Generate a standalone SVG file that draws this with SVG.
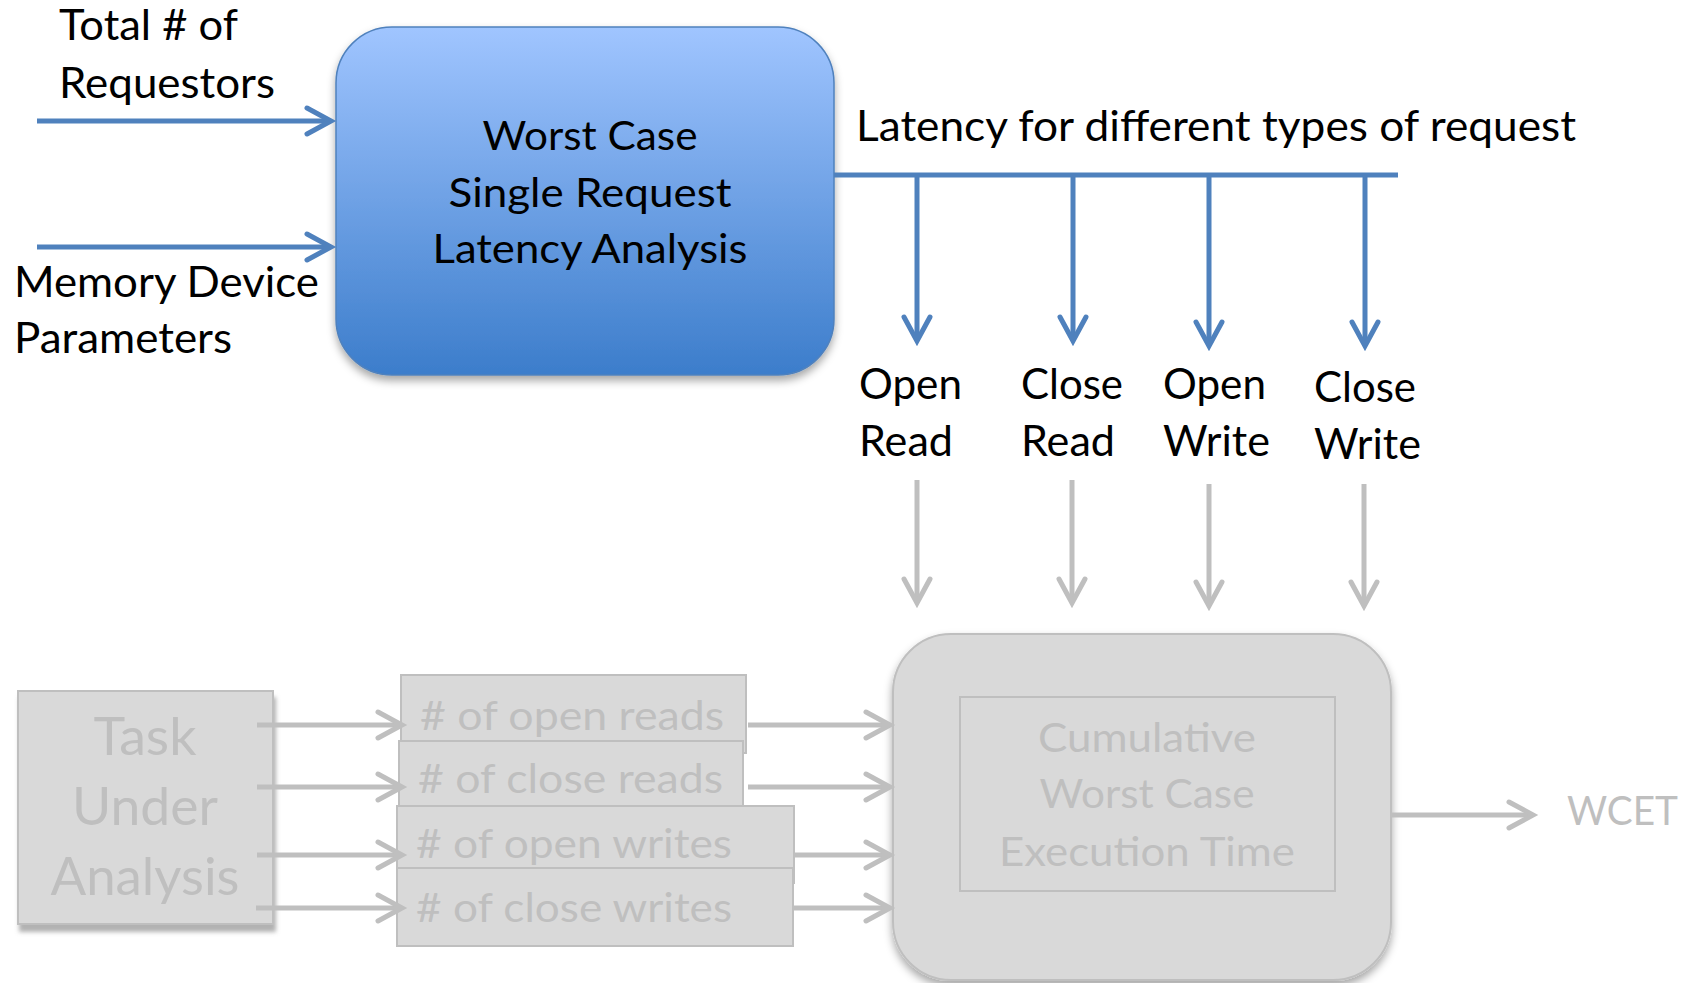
<svg xmlns="http://www.w3.org/2000/svg" width="1694" height="983" viewBox="0 0 1694 983">
  <style>
    text { font-family: Lato, "Open Sans", "Liberation Sans", sans-serif; }
    .dark { fill: #000000; font-size: 40px; }
    .big { font-size: 43px; }
    .pale { fill: #BFBFBF; font-size: 40px; }
    .task { font-size: 52px; }
    .blue { stroke: #4F81BD; stroke-width: 5; fill: none; }
    .grey { stroke: #BFBFBF; stroke-width: 5; fill: none; }
    .greyBox { fill: #D9D9D9; stroke: #BFBFBF; stroke-width: 2; }
  </style>
  <defs>
    <linearGradient id="blueFill" x1="0" y1="0" x2="0" y2="1">
      <stop offset="0" stop-color="#A0C5FF"/>
      <stop offset="1" stop-color="#3C7DCB"/>
    </linearGradient>
    <filter id="shadow" x="-10%" y="-10%" width="120%" height="125%">
      <feDropShadow dx="0" dy="5" stdDeviation="4" flood-color="#000" flood-opacity="0.35"/>
    </filter>
    <filter id="taskShadow" x="-10%" y="-10%" width="120%" height="125%">
      <feDropShadow dx="2" dy="7" stdDeviation="2" flood-color="#7F7F7F" flood-opacity="0.6"/>
    </filter>
    <marker id="blueHead" markerUnits="userSpaceOnUse" viewBox="-30 -17 36 34" refX="0" refY="0" markerWidth="36" markerHeight="34" orient="auto">
      <path d="M-24,-13 L0,0 L-24,13" fill="none" stroke="#4F81BD" stroke-width="5" stroke-linecap="round" stroke-linejoin="miter"/>
    </marker>
    <marker id="greyHead" markerUnits="userSpaceOnUse" viewBox="-30 -17 36 34" refX="0" refY="0" markerWidth="36" markerHeight="34" orient="auto">
      <path d="M-24,-13 L0,0 L-24,13" fill="none" stroke="#BFBFBF" stroke-width="5" stroke-linecap="round" stroke-linejoin="miter"/>
    </marker>
  </defs>

  <rect width="1694" height="983" fill="#FFFFFF"/>

  <!-- input labels -->
  <g id="requestors-label">
    <text class="dark big" x="59" y="40" textLength="179" lengthAdjust="spacingAndGlyphs">Total # of</text>
    <text class="dark big" x="59" y="98" textLength="216" lengthAdjust="spacingAndGlyphs">Requestors</text>
  </g>
  <g id="device-label">
    <text class="dark big" x="14" y="297" textLength="305" lengthAdjust="spacingAndGlyphs">Memory Device</text>
    <text class="dark big" x="14" y="353" textLength="218" lengthAdjust="spacingAndGlyphs">Parameters</text>
  </g>

  <!-- single request latency analysis -->
  <g id="latency-analysis">
    <rect x="336" y="27" width="498" height="348" rx="56" ry="56" fill="url(#blueFill)" stroke="#4F81BD" stroke-width="1.5" filter="url(#shadow)"/>
    <text class="dark" x="590" y="150" text-anchor="middle" textLength="215" lengthAdjust="spacingAndGlyphs">Worst Case</text>
    <text class="dark" x="590" y="207" text-anchor="middle" textLength="283" lengthAdjust="spacingAndGlyphs">Single Request</text>
    <text class="dark" x="590" y="263" text-anchor="middle" textLength="315" lengthAdjust="spacingAndGlyphs">Latency Analysis</text>
  </g>

  <g id="latency-label">
    <text class="dark big" x="856" y="141" textLength="720" lengthAdjust="spacingAndGlyphs">Latency for different types of request</text>
  </g>

  <!-- request type labels -->
  <g id="open-read">
    <text class="dark big" x="859" y="399" textLength="103" lengthAdjust="spacingAndGlyphs">Open</text>
    <text class="dark big" x="859" y="456" textLength="94" lengthAdjust="spacingAndGlyphs">Read</text>
  </g>
  <g id="close-read">
    <text class="dark big" x="1021" y="399" textLength="102" lengthAdjust="spacingAndGlyphs">Close</text>
    <text class="dark big" x="1021" y="456" textLength="94" lengthAdjust="spacingAndGlyphs">Read</text>
  </g>
  <g id="open-write">
    <text class="dark big" x="1163" y="399" textLength="103" lengthAdjust="spacingAndGlyphs">Open</text>
    <text class="dark big" x="1163" y="456" textLength="107" lengthAdjust="spacingAndGlyphs">Write</text>
  </g>
  <g id="close-write">
    <text class="dark big" x="1314" y="402" textLength="102" lengthAdjust="spacingAndGlyphs">Close</text>
    <text class="dark big" x="1314" y="459" textLength="107" lengthAdjust="spacingAndGlyphs">Write</text>
  </g>

  <!-- task under analysis -->
  <g id="task">
    <rect class="greyBox" x="18" y="691" width="255" height="233" filter="url(#taskShadow)"/>
    <text class="pale task" x="145" y="755" text-anchor="middle" textLength="103" lengthAdjust="spacingAndGlyphs">Task</text>
    <text class="pale task" x="145" y="825" text-anchor="middle" textLength="146" lengthAdjust="spacingAndGlyphs">Under</text>
    <text class="pale task" x="145" y="895" text-anchor="middle" textLength="189" lengthAdjust="spacingAndGlyphs">Analysis</text>
  </g>

  <!-- request counts -->
  <g id="open-reads">
    <rect class="greyBox" x="401" y="675" width="345" height="78"/>
    <text class="pale" x="420" y="730" textLength="304" lengthAdjust="spacingAndGlyphs"># of open reads</text>
  </g>
  <g id="close-reads">
    <rect class="greyBox" x="399" y="741" width="344" height="70"/>
    <text class="pale" x="418" y="793" textLength="305" lengthAdjust="spacingAndGlyphs"># of close reads</text>
  </g>
  <g id="open-writes">
    <rect class="greyBox" x="397" y="806" width="397" height="77"/>
    <text class="pale" x="416" y="858" textLength="316" lengthAdjust="spacingAndGlyphs"># of open writes</text>
  </g>
  <g id="close-writes">
    <rect class="greyBox" x="397" y="868" width="396" height="78"/>
    <text class="pale" x="416" y="922" textLength="316" lengthAdjust="spacingAndGlyphs"># of close writes</text>
  </g>

  <!-- cumulative analysis -->
  <g id="cumulative">
    <rect class="greyBox" x="893" y="634" width="498" height="346" rx="58" ry="58" filter="url(#shadow)"/>
    <rect x="960" y="697" width="375" height="194" fill="none" stroke="#BFBFBF" stroke-width="2"/>
    <text class="pale" x="1147" y="752" text-anchor="middle" textLength="218" lengthAdjust="spacingAndGlyphs">Cumulative</text>
    <text class="pale" x="1147" y="808" text-anchor="middle" textLength="215" lengthAdjust="spacingAndGlyphs">Worst Case</text>
    <text class="pale" x="1147" y="866" text-anchor="middle" textLength="296" lengthAdjust="spacingAndGlyphs">Execution Time</text>
  </g>

  <g id="wcet">
    <text class="pale" x="1567" y="825" textLength="111" lengthAdjust="spacingAndGlyphs">WCET</text>
  </g>

  <!-- connectors, drawn over the boxes they leave -->
  <g id="connectors">
    <!-- inputs to the latency analysis -->
    <line class="blue" x1="37" y1="121" x2="331" y2="121" marker-end="url(#blueHead)"/>
    <line class="blue" x1="37" y1="247" x2="331" y2="247" marker-end="url(#blueHead)"/>
    <!-- latency bus and drops -->
    <line class="blue" x1="834" y1="175" x2="1398" y2="175"/>
    <line class="blue" x1="917" y1="175" x2="917" y2="341" marker-end="url(#blueHead)"/>
    <line class="blue" x1="1073" y1="175" x2="1073" y2="341" marker-end="url(#blueHead)"/>
    <line class="blue" x1="1209" y1="175" x2="1209" y2="346" marker-end="url(#blueHead)"/>
    <line class="blue" x1="1365" y1="175" x2="1365" y2="346" marker-end="url(#blueHead)"/>
    <!-- latencies into the cumulative analysis -->
    <line class="grey" x1="917" y1="480" x2="917" y2="603" marker-end="url(#greyHead)"/>
    <line class="grey" x1="1072" y1="480" x2="1072" y2="603" marker-end="url(#greyHead)"/>
    <line class="grey" x1="1209" y1="484" x2="1209" y2="606" marker-end="url(#greyHead)"/>
    <line class="grey" x1="1364" y1="484" x2="1364" y2="606" marker-end="url(#greyHead)"/>
    <!-- task to request counts -->
    <line class="grey" x1="257" y1="725" x2="402" y2="725" marker-end="url(#greyHead)"/>
    <line class="grey" x1="257" y1="787" x2="402" y2="787" marker-end="url(#greyHead)"/>
    <line class="grey" x1="257" y1="855" x2="402" y2="855" marker-end="url(#greyHead)"/>
    <line class="grey" x1="256" y1="908" x2="402" y2="908" marker-end="url(#greyHead)"/>
    <!-- request counts to cumulative analysis -->
    <line class="grey" x1="748" y1="725" x2="890" y2="725" marker-end="url(#greyHead)"/>
    <line class="grey" x1="748" y1="787" x2="890" y2="787" marker-end="url(#greyHead)"/>
    <line class="grey" x1="794" y1="855" x2="890" y2="855" marker-end="url(#greyHead)"/>
    <line class="grey" x1="794" y1="908" x2="890" y2="908" marker-end="url(#greyHead)"/>
    <!-- result -->
    <line class="grey" x1="1391" y1="815" x2="1533" y2="815" marker-end="url(#greyHead)"/>
  </g>
</svg>
